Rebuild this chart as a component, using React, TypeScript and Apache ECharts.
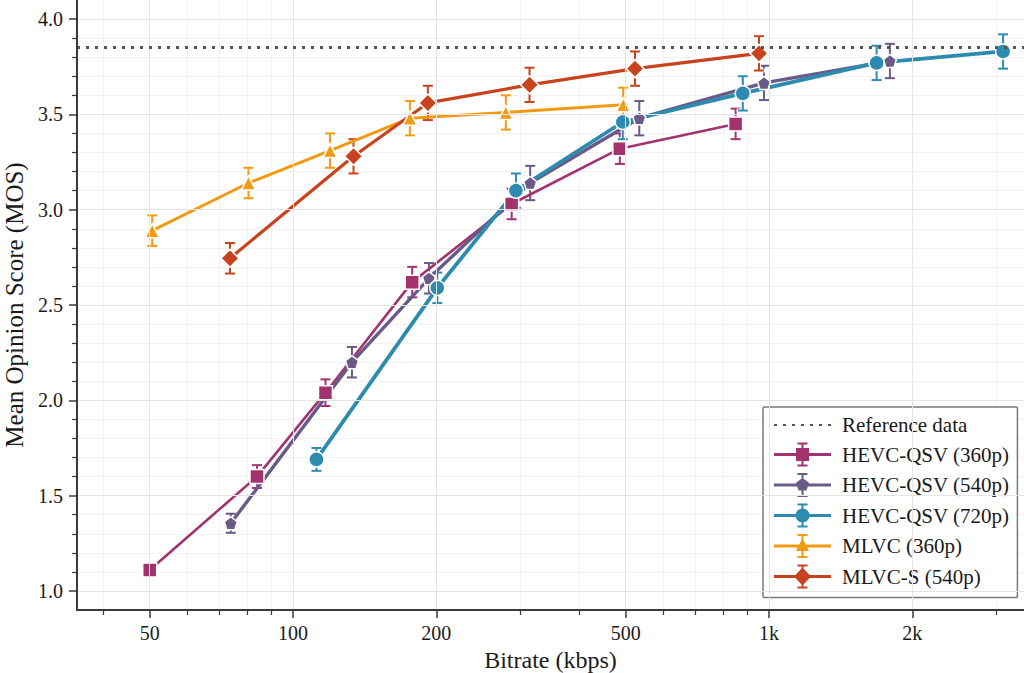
import React, { useEffect, useRef } from "react";
import * as echarts from "echarts";

// ---------- data ----------
const hevc360Kbps = [50, 84, 117, 178, 288, 486, 851];
const hevc360Mos = [1.11, 1.6, 2.04, 2.62, 3.03, 3.32, 3.45];
const hevc360Err = [0.02, 0.06, 0.07, 0.08, 0.08, 0.08, 0.08];

const hevc540Kbps = [74, 133, 193, 315, 534, 976, 1795];
const hevc540Mos = [1.355, 2.2, 2.64, 3.14, 3.48, 3.665, 3.78];
const hevc540Err = [0.05, 0.08, 0.08, 0.09, 0.09, 0.09, 0.09];

const hevc720Kbps = [112, 201, 294, 493, 881, 1683, 3104];
const hevc720Mos = [1.69, 2.59, 3.1, 3.46, 3.61, 3.77, 3.83];
const hevc720Err = [0.06, 0.08, 0.09, 0.09, 0.09, 0.09, 0.09];

const mlvcKbps = [50.6, 80.6, 119.6, 176, 280, 494];
const mlvcMos = [2.89, 3.14, 3.31, 3.48, 3.51, 3.55];
const mlvcErr = [0.08, 0.08, 0.09, 0.09, 0.09, 0.09];

const mlvcsKbps = [73.7, 134, 192, 314, 523, 953];
const mlvcsMos = [2.745, 3.28, 3.56, 3.655, 3.74, 3.82];
const mlvcsErr = [0.08, 0.09, 0.09, 0.09, 0.09, 0.09];

const referenceMos = 3.85;

const xMajorTicks = [50, 100, 200, 500, 1000, 2000];
const xMinorTicks = [40, 60, 70, 80, 90, 300, 400, 600, 700, 800, 900, 3000];
const yMajorTicks = [1.0, 1.5, 2.0, 2.5, 3.0, 3.5, 4.0];
const yMinorTicks = [
  1.1, 1.2, 1.3, 1.4, 1.6, 1.7, 1.8, 1.9, 2.1, 2.2, 2.3, 2.4, 2.6, 2.7, 2.8,
  2.9, 3.1, 3.2, 3.3, 3.4, 3.6, 3.7, 3.8, 3.9,
];
const xRangeKbps = [35.17, 3434];
const yRange = [0.9, 4.1];

// ---------- styling ----------
const FONT = "'Liberation Serif', 'Times New Roman', serif";
const AXIS_COLOR = "#3a3a3a";
const TEXT_COLOR = "#1a1a1a";

const PENTAGON =
  "path://M0,-1 L0.951,-0.309 L0.588,0.809 L-0.588,0.809 L-0.951,-0.309 Z";

// legend icon (57 x 24 box): line + error bar + marker
const ICON_BASE =
  "M0,10.5 L57,10.5 L57,13.5 L0,13.5 Z M27.5,1 L29.5,1 L29.5,23 L27.5,23 Z M23.5,0 L33.5,0 L33.5,2 L23.5,2 Z M23.5,22 L33.5,22 L33.5,24 L23.5,24 Z ";
const ICON_MARKERS: Record<string, string> = {
  rect: "M22,5.5 L35,5.5 L35,18.5 L22,18.5 Z",
  pentagon: "M28.5,5 L35,9.7 L32.5,17.5 L24.5,17.5 L22,9.7 Z",
  circle:
    "M28.5,5 L31.2,5.5 L33.5,7 L35,9.3 L35.5,12 L35,14.7 L33.5,17 L31.2,18.5 L28.5,19 L25.8,18.5 L23.5,17 L22,14.7 L21.5,12 L22,9.3 L23.5,7 L25.8,5.5 Z",
  triangle: "M28.5,4 L35,17 L22,17 Z",
  diamond: "M28.5,3 L37,12 L28.5,21 L20,12 Z",
};

type SeriesDef = {
  name: string;
  kbps: number[];
  mos: number[];
  err: number[];
  color: string;
  symbol: string;
  iconKey: string;
  symbolSize: number;
  width: number;
};

const seriesDefs: SeriesDef[] = [
  { name: "HEVC-QSV (360p)", kbps: hevc360Kbps, mos: hevc360Mos, err: hevc360Err, color: "#A3336F", symbol: "rect", iconKey: "rect", symbolSize: 14, width: 2.6 },
  { name: "HEVC-QSV (540p)", kbps: hevc540Kbps, mos: hevc540Mos, err: hevc540Err, color: "#6A5A87", symbol: PENTAGON, iconKey: "pentagon", symbolSize: 13, width: 3.4 },
  { name: "HEVC-QSV (720p)", kbps: hevc720Kbps, mos: hevc720Mos, err: hevc720Err, color: "#2E8BB0", symbol: "circle", iconKey: "circle", symbolSize: 15, width: 3.8 },
  { name: "MLVC (360p)", kbps: mlvcKbps, mos: mlvcMos, err: mlvcErr, color: "#F29A14", symbol: "triangle", iconKey: "triangle", symbolSize: 14, width: 3 },
  { name: "MLVC-S (540p)", kbps: mlvcsKbps, mos: mlvcsMos, err: mlvcsErr, color: "#C9421E", symbol: "diamond", iconKey: "diamond", symbolSize: 18, width: 3.2 },
];

const lg = (v: number) => Math.log10(v);

function fmtKbps(v: number) {
  const r = Math.round(Math.pow(10, v));
  return r >= 1000 ? `${r / 1000}k` : String(r);
}

function buildOption() {
  const series: any[] = [];

  series.push({
    name: "Reference data",
    type: "line",
    data: [],
    symbol: "none",
    xAxisIndex: 0,
    yAxisIndex: 0,
    lineStyle: { color: "#555555", width: 3.2, type: [3, 6] },
    itemStyle: { color: "#555555" },
    markLine: {
      silent: true,
      symbol: "none",
      label: { show: false },
      lineStyle: { color: "#555555", width: 3.2, type: [3, 6] },
      data: [{ yAxis: referenceMos }],
    },
    z: 1,
  });

  seriesDefs.forEach((s) => {
    const color = s.color;
    series.push({
      type: "custom",
      name: s.name + " err",
      xAxisIndex: 0,
      yAxisIndex: 0,
      data: s.kbps.map((k, i) => [lg(k), s.mos[i], s.err[i]]),
      encode: { x: 0, y: 1 },
      z: 3,
      renderItem: (params: any, api: any) => {
        const x = api.value(0);
        const y = api.value(1);
        const e = api.value(2);
        const top = api.coord([x, y + e]);
        const bot = api.coord([x, y - e]);
        const cx = top[0];
        const hw = 5;
        const mk = (x1: number, y1: number, x2: number, y2: number, stroke: string, lw: number) => ({
          type: "line",
          shape: { x1, y1, x2, y2 },
          style: { stroke, lineWidth: lw, lineCap: "butt" },
        });
        return {
          type: "group",
          children: [
            mk(cx, top[1], cx, bot[1], "#ffffff", 4),
            mk(cx - hw - 1, top[1], cx + hw + 1, top[1], "#ffffff", 4),
            mk(cx - hw - 1, bot[1], cx + hw + 1, bot[1], "#ffffff", 4),
            mk(cx, top[1], cx, bot[1], color, 2),
            mk(cx - hw, top[1], cx + hw, top[1], color, 2),
            mk(cx - hw, bot[1], cx + hw, bot[1], color, 2),
          ],
        };
      },
    });
    series.push({
      type: "line",
      name: s.name,
      xAxisIndex: 0,
      yAxisIndex: 0,
      data: s.kbps.map((k, i) => [lg(k), s.mos[i]]),
      symbol: s.symbol,
      symbolSize: s.symbolSize,
      showAllSymbol: true,
      lineStyle: { color, width: s.width },
      itemStyle: { color, borderColor: "#ffffff", borderWidth: 1.5 },
      z: 4,
    });
  });

  const baseX = {
    type: "value",
    min: lg(xRangeKbps[0]),
    max: lg(xRangeKbps[1]),
    gridIndex: 0,
  };
  const baseY = {
    type: "value",
    min: yRange[0],
    max: yRange[1],
    gridIndex: 0,
  };

  return {
    animation: false,
    backgroundColor: "#ffffff",
    textStyle: { fontFamily: FONT },
    grid: {
      left: 77,
      right: 0,
      top: 0,
      bottom: 63,
      containLabel: false,
      outerBoundsMode: "none",
    },
    legend: {
      data: [
        {
          name: "Reference data",
          itemStyle: { color: "rgba(0,0,0,0)", borderColor: "rgba(0,0,0,0)", borderWidth: 0 },
        },
        ...seriesDefs.map((s) => ({
          name: s.name,
          icon: "path://" + ICON_BASE + ICON_MARKERS[s.iconKey],
          itemStyle: { color: s.color, borderWidth: 0, borderColor: "rgba(0,0,0,0)" },
        })),
      ],
      orient: "vertical",
      left: 763,
      top: 407,
      padding: [7, 8, 9, 10],
      itemWidth: 57,
      itemHeight: 24,
      itemGap: 6.5,
      backgroundColor: "rgba(255,255,255,0.92)",
      borderColor: "#7a7a7a",
      borderWidth: 1.5,
      borderRadius: 1,
      textStyle: {
        fontFamily: FONT,
        fontSize: 21,
        color: TEXT_COLOR,
        lineHeight: 22,
        padding: [0, 0, 0, 6],
      },
    },
    xAxis: [
      {
        ...baseX,
        name: "Bitrate (kbps)",
        nameLocation: "middle",
        nameGap: 37,
        nameTextStyle: { fontFamily: FONT, fontSize: 24, color: TEXT_COLOR },
        axisLine: { show: true, onZero: false, lineStyle: { color: AXIS_COLOR, width: 2 } },
        axisTick: {
          show: true,
          customValues: xMajorTicks.map(lg),
          length: 8,
          lineStyle: { color: AXIS_COLOR, width: 1.5 },
        },
        axisLabel: {
          customValues: xMajorTicks.map(lg),
          formatter: fmtKbps,
          fontFamily: FONT,
          fontSize: 20,
          color: TEXT_COLOR,
          margin: 13,
        },
        splitLine: { show: true, lineStyle: { color: "#e4e4e4", width: 1 } },
        z: 5,
      },
      {
        ...baseX,
        position: "bottom",
        axisLine: { show: false },
        axisTick: {
          show: true,
          customValues: xMinorTicks.map(lg),
          length: 5,
          lineStyle: { color: AXIS_COLOR, width: 1.2 },
        },
        axisLabel: { show: false },
        splitLine: { show: true, lineStyle: { color: "#f2f2f2", width: 1 } },
        z: 0,
      },
    ],
    yAxis: [
      {
        ...baseY,
        name: "Mean Opinion Score (MOS)",
        nameLocation: "middle",
        nameGap: 49,
        nameTextStyle: { fontFamily: FONT, fontSize: 25, color: TEXT_COLOR },
        axisLine: { show: true, onZero: false, lineStyle: { color: AXIS_COLOR, width: 2 } },
        axisTick: {
          show: true,
          customValues: yMajorTicks,
          length: 8,
          lineStyle: { color: AXIS_COLOR, width: 1.5 },
        },
        axisLabel: {
          customValues: yMajorTicks,
          formatter: (v: number) => v.toFixed(1),
          fontFamily: FONT,
          fontSize: 20,
          color: TEXT_COLOR,
          margin: 14,
        },
        splitLine: { show: true, lineStyle: { color: "#e4e4e4", width: 1 } },
        z: 5,
      },
      {
        ...baseY,
        position: "left",
        axisLine: { show: false },
        axisTick: {
          show: true,
          customValues: yMinorTicks,
          length: 5,
          lineStyle: { color: AXIS_COLOR, width: 1.2 },
        },
        axisLabel: { show: false },
        splitLine: { show: true, lineStyle: { color: "#f2f2f2", width: 1 } },
        z: 0,
      },
    ],
    series,
  };
}

export default function App() {
  const ref = useRef<HTMLDivElement>(null);
  useEffect(() => {
    if (!ref.current) return;
    const chart = echarts.init(ref.current, undefined, { renderer: "svg" });
    chart.setOption(buildOption() as any);
    return () => chart.dispose();
  }, []);
  return (
    <div
      ref={ref}
      style={{
        position: "fixed",
        left: 0,
        top: 0,
        width: 1024,
        height: 673,
        background: "#ffffff",
      }}
    />
  );
}
